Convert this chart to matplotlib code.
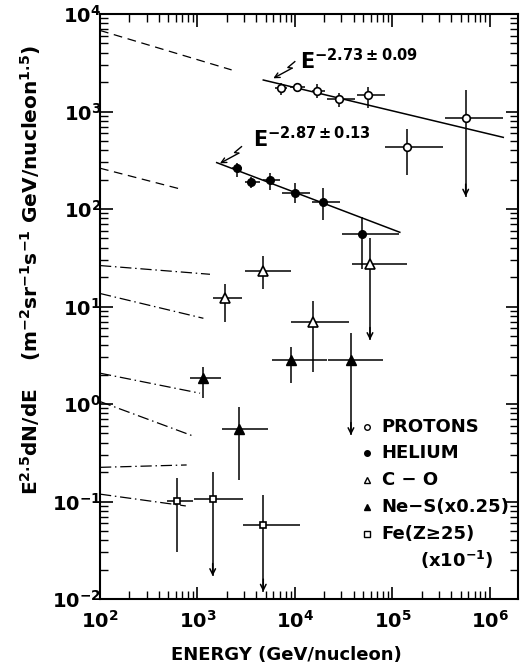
import numpy as np
import matplotlib
matplotlib.use("Agg")
import matplotlib.pyplot as plt
import matplotlib.transforms as mtransforms
from matplotlib.ticker import LogLocator, FuncFormatter, NullFormatter

plt.rcParams["font.family"] = ["DejaVu Sans"]
plt.rcParams["font.weight"] = "bold"
plt.rcParams["axes.labelweight"] = "bold"
plt.rcParams["mathtext.fontset"] = "custom"
plt.rcParams["mathtext.rm"] = "DejaVu Sans:bold"
plt.rcParams["mathtext.it"] = "DejaVu Sans:bold"
plt.rcParams["mathtext.bf"] = "DejaVu Sans:bold"
plt.rcParams["mathtext.default"] = "rm"

# ── data (GeV/nucleon, E^2.5 dN/dE) ─────────────────────────────────────────
# protons
p_x    = [7130, 10400, 16700, 28250, 56500, 140000, 564000]
p_y    = [1755, 1795, 1633, 1343, 1476, 430, 857]
p_xlo  = [6240, 8890, 14840, 21130, 42960, 83800, 345000]
p_xhi  = [8220, 12670, 20300, 41200, 83800, 332000, 1370000]
p_ylo  = [1476, 1633, 1375, 1120, 1086, 223, 134]
p_yhi  = [1972, 1972, 1914, 1549, 1782, 662, 1663]
p_ul   = [False, False, False, False, False, False, True]

# helium
he_x   = [2520, 3510, 5540, 10000, 19500, 49000]
he_y   = [261, 190, 198, 147, 117, 55.8]
he_xlo = [2240, 3070, 4730, 7310, 14840, 30100]
he_xhi = [2840, 4380, 7020, 14250, 28950, 116700]
he_ylo = [214, 163, 157, 114, 77, 24]
he_yhi = [294, 211, 235, 183, 163, 83.4]
he_ul  = [False] * 6

# C-O
co_x   = [1914, 4670, 15400, 58800]
co_y   = [12.1, 23.3, 6.98, 27.3]
co_xlo = [1432, 3070, 9100, 38200]
co_xhi = [2877, 9030, 36000, 142000]
co_ylo = [6.98, 15.0, 2.14, 4.53]
co_yhi = [16.9, 33, 11.5, 50]
co_ul  = [False, False, False, True]

# Ne-S (x0.25)
ns_x   = [1130, 2690, 9100, 37500]
ns_y   = [1.84, 0.555, 2.82, 2.82]
ns_xlo = [838, 1800, 5770, 22000]
ns_xhi = [1730, 5320, 21100, 80500]
ns_ylo = [1.14, 0.166, 1.65, 0.48]
ns_yhi = [2.41, 0.94, 3.87, 5.38]
ns_ul  = [False, False, False, True]

# Fe (Z>=25) (x0.1)
fe_x   = [612, 1432, 4730]
fe_y   = [0.102, 0.105, 0.058]
fe_xlo = [484, 927, 2950]
fe_xhi = [906, 2910, 11250]
fe_ylo = [0.0305, 0.0172, 0.0119]
fe_yhi = [0.173, 0.202, 0.117]
fe_ul  = [False, True, True]

# power-law fits (end points)
fit_p_x  = [4730, 1.37e6]
fit_p_y  = [2104, 543]
fit_he_x = [1574, 119000]
fit_he_y = [299, 57.7]

# low-energy reference lines
ref_dashed = [([100, 2240], [6780, 2670]),
              ([100, 689], [262, 159])]
ref_dashdot = [([100, 1343], [26.3, 21.4]),
               ([100, 1150], [13.6, 7.57]),
               ([100, 1062], [2.07, 1.29]),
               ([100, 942], [1.06, 0.462]),
               ([100, 774], [0.224, 0.237]),
               ([100, 759], [0.119, 0.090])]

legend_labels = ["PROTONS", "HELIUM", "C \u2212 O", "Ne\u2212S(x0.25)", "Fe(Z\u226525)"]
legend_note = r"(x10$^{-1}$)"

fig = plt.figure(figsize=(5.22, 6.70), dpi=100)
ax = fig.add_axes([100 / 522, 1 - 599 / 670, 418 / 522, 585 / 670])
ax.set_xscale("log")
ax.set_yscale("log")


def series(x, y, xlo, xhi, ylo, yhi, ul, **mk):
    x, y = np.array(x, float), np.array(y, float)
    ax.errorbar(x, y, xerr=[x - np.array(xlo), np.array(xhi) - x],
                yerr=[y - np.array(ylo), np.array(yhi) - y],
                fmt="none", ecolor="k", elinewidth=1.1, capsize=0, zorder=2)
    ax.plot(x, y, ls="none", zorder=3, **mk)
    for xi, lo, u in zip(x, ylo, ul):
        if u:
            ax.annotate("", xy=(xi, lo), xytext=(0, 9), textcoords="offset points",
                        arrowprops=dict(arrowstyle="->", lw=1.1, color="k",
                                        shrinkA=0, shrinkB=0, mutation_scale=10))


series(p_x, p_y, p_xlo, p_xhi, p_ylo, p_yhi, p_ul,
       marker="o", ms=5.5, mfc="white", mec="k", mew=1.2)
series(he_x, he_y, he_xlo, he_xhi, he_ylo, he_yhi, he_ul,
       marker="o", ms=5.5, mfc="k", mec="k")
series(co_x, co_y, co_xlo, co_xhi, co_ylo, co_yhi, co_ul,
       marker="^", ms=6.5, mfc="white", mec="k", mew=1.2)
series(ns_x, ns_y, ns_xlo, ns_xhi, ns_ylo, ns_yhi, ns_ul,
       marker="^", ms=6.5, mfc="k", mec="k")
series(fe_x, fe_y, fe_xlo, fe_xhi, fe_ylo, fe_yhi, fe_ul,
       marker="s", ms=5, mfc="white", mec="k", mew=1.2)

ax.plot(fit_p_x, fit_p_y, color="k", lw=1.1, zorder=1)
ax.plot(fit_he_x, fit_he_y, color="k", lw=1.1, zorder=1)
for xs, ys in ref_dashed:
    ax.plot(xs, ys, color="k", lw=0.9, dashes=(7, 4.5))
for xs, ys in ref_dashdot:
    ax.plot(xs, ys, color="k", lw=0.9, dashes=(9, 3, 1.2, 3))


# lightning-bolt arrows pointing at the fits
def bolt(tip):
    off = mtransforms.ScaledTranslation(tip[0], tip[1], ax.transData)
    tr = mtransforms.Affine2D().scale(1 / 72.0) + fig.dpi_scale_trans + off
    ax.plot([15.5, 10.5, 13.5], [12, 7.8, 7.3], transform=tr, color="k", lw=1.0)
    ax.annotate("", xy=(0, 0), xycoords=tr, xytext=(13.5, 7.3), textcoords=tr,
                arrowprops=dict(arrowstyle="->", lw=1.0, color="k",
                                shrinkA=0, shrinkB=0, mutation_scale=9))


bolt((5990, 2190))
bolt((1700, 294))
ax.text(11250, 2730, r"E$^{-2.73\pm0.09}$", fontsize=15, va="baseline")
ax.text(3730, 432, r"E$^{-2.87\pm0.13}$", fontsize=15, va="baseline")

# legend drawn by hand (marker + label rows)
leg_marks = [dict(marker="o", mfc="white", mec="k", ms=4),
             dict(marker="o", mfc="k", mec="k", ms=4),
             dict(marker="^", mfc="white", mec="k", ms=5),
             dict(marker="^", mfc="k", mec="k", ms=5),
             dict(marker="s", mfc="white", mec="k", ms=4)]
row_y = [0.2935, 0.2500, 0.2034, 0.1578, 0.1111]
for lab, mk, yy in zip(legend_labels, leg_marks, row_y):
    ax.plot([0.639], [yy], transform=ax.transAxes, ls="none", mew=1.0, **mk)
    ax.text(0.674, yy, lab, transform=ax.transAxes, fontsize=13, va="center")
ax.text(0.766, 0.0667, legend_note, transform=ax.transAxes, fontsize=13, va="center")

ax.set_xlim(1e2, 1.94e6)
ax.set_ylim(1e-2, 1e4)

fmt = FuncFormatter(lambda v, p: r"$10^{%d}$" % round(np.log10(v)))
for axis in (ax.xaxis, ax.yaxis):
    axis.set_major_locator(LogLocator(base=10, numticks=20))
    axis.set_minor_locator(LogLocator(base=10, subs=np.arange(2, 10), numticks=20))
    axis.set_major_formatter(fmt)
    axis.set_minor_formatter(NullFormatter())
ax.tick_params(which="both", direction="in", top=True, right=True, labelsize=14)
ax.tick_params(which="major", length=9, width=1.2)
ax.tick_params(which="minor", length=5.5, width=1.0)
ax.tick_params(axis="y", which="major", pad=-1)
ax.tick_params(axis="x", which="major", pad=8)
for s in ax.spines.values():
    s.set_linewidth(1.5)

ax.set_xlabel("ENERGY (GeV/nucleon)", fontsize=13)
ax.xaxis.set_label_coords(0.447, -0.080)
ax.set_ylabel(r"E$^{2.5}$dN/dE    (m$^{-2}$sr$^{-1}$s$^{-1}$ GeV/nucleon$^{1.5}$)", fontsize=14.5)
ax.yaxis.set_label_coords(-0.136, 0.562)

fig.savefig("out.png", dpi=100)
